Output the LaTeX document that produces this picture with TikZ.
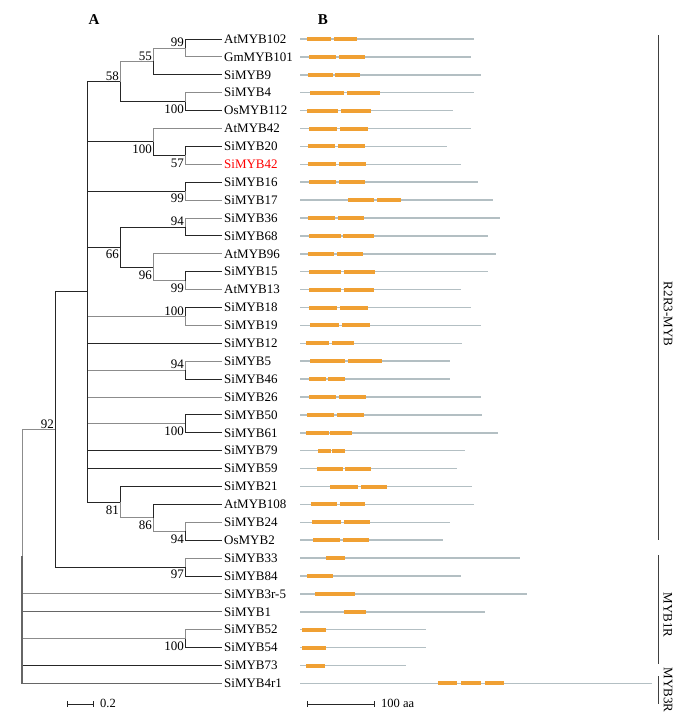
\documentclass[tikz,border=0pt]{standalone}
\usepackage{fontspec}
\setmainfont{Liberation Serif}
\definecolor{domorange}{HTML}{F0A033}
\definecolor{protgray}{HTML}{B3BFC3}
\tikzset{
  br/.style={black!85, line width=0.9pt},
  brg/.style={black!45, line width=0.9pt},
  leaf/.style={anchor=west, inner sep=2pt, font=\fontsize{13}{15}\selectfont},
  bsup/.style={anchor=south east, inner sep=1pt, font=\fontsize{13}{15}\selectfont},
  bsdn/.style={anchor=north east, inner sep=1pt, yshift=-2pt, font=\fontsize{13}{15}\selectfont},
  prot/.style={protgray, line width=1.5pt},
  dom/.style={domorange, line width=4pt},
  grp/.style={black!75, line width=1pt},
  grplabel/.style={rotate=-90, inner sep=0pt, font=\fontsize{13}{15}\selectfont},
}
\begin{document}
\begin{tikzpicture}[x=1pt,y=-1pt]
\useasboundingbox (0,0) rectangle (698,724);
\node[font=\bfseries\fontsize{15}{17}\selectfont] (panA) at (94,20) {A};
\node[font=\bfseries\fontsize{15}{17}\selectfont] (panB) at (323,20) {B};

% taxa
\foreach \i/\t/\c in {1/AtMYB102/black, 2/GmMYB101/black, 3/SiMYB9/black, 4/SiMYB4/black,
    5/OsMYB112/black, 6/AtMYB42/black, 7/SiMYB20/black, 8/SiMYB42/red, 9/SiMYB16/black,
    10/SiMYB17/black, 11/SiMYB36/black, 12/SiMYB68/black, 13/AtMYB96/black, 14/SiMYB15/black,
    15/AtMYB13/black, 16/SiMYB18/black, 17/SiMYB19/black, 18/SiMYB12/black, 19/SiMYB5/black,
    20/SiMYB46/black, 21/SiMYB26/black, 22/SiMYB50/black, 23/SiMYB61/black, 24/SiMYB79/black,
    25/SiMYB59/black, 26/SiMYB21/black, 27/AtMYB108/black, 28/SiMYB24/black, 29/OsMYB2/black,
    30/SiMYB33/black, 31/SiMYB84/black, 32/SiMYB3r-5/black, 33/SiMYB1/black, 34/SiMYB52/black,
    35/SiMYB54/black, 36/SiMYB73/black, 37/SiMYB4r1/black}
  \node[leaf, text=\c] (l\i) at (222, {39+17.9*(\i-1)}) {\t};

% inner nodes
\coordinate (a99) at (185,47.95);
\coordinate (a55) at (153,61.4);
\coordinate (a100) at (185,101.65);
\coordinate (a58) at (120,81.5);
\coordinate (b57) at (185,155.35);
\coordinate (b100) at (153,141.9);
\coordinate (c99) at (185,191.15);
\coordinate (d94) at (185,226.95);
\coordinate (d99) at (185,280.65);
\coordinate (d96) at (153,267.2);
\coordinate (d66) at (120,247.1);
\coordinate (e100) at (185,316.45);
\coordinate (f94) at (185,370.15);
\coordinate (g100) at (185,423.85);
\coordinate (h94) at (185,531.25);
\coordinate (h86) at (153,517.8);
\coordinate (h81) at (120,502.2);
\coordinate (big) at (87,291.85);
\coordinate (i97) at (185,567.05);
\coordinate (n92) at (55,429.45);
\coordinate (j100) at (185,638.65);
\coordinate (root) at (22,556.4);

% branches
\draw[br] (a99) |- (l1.west);
\draw[brg] (a99) |- (l2.west);
\draw[brg] (a55) |- (a99);
\draw[br] (a55) |- (l3.west);
\draw[brg] (a100) |- (l4.west);
\draw[br] (a100) |- (l5.west);
\draw[brg] (a58) |- (a55);
\draw[br] (a58) |- (a100);
\draw[br] (b57) |- (l7.west);
\draw[brg] (b57) |- (l8.west);
\draw[brg] (b100) |- (l6.west);
\draw[br] (b100) |- (b57);
\draw[br] (c99) |- (l9.west);
\draw[brg] (c99) |- (l10.west);
\draw[brg] (d94) |- (l11.west);
\draw[br] (d94) |- (l12.west);
\draw[br] (d99) |- (l14.west);
\draw[brg] (d99) |- (l15.west);
\draw[brg] (d96) |- (l13.west);
\draw[brg] (d96) |- (d99);
\draw[br] (d66) |- (d94);
\draw[br] (d66) |- (d96);
\draw[br] (e100) |- (l16.west);
\draw[brg] (e100) |- (l17.west);
\draw[brg] (f94) |- (l19.west);
\draw[br] (f94) |- (l20.west);
\draw[br] (g100) |- (l22.west);
\draw[br] (g100) |- (l23.west);
\draw[brg] (h94) |- (l28.west);
\draw[br] (h94) |- (l29.west);
\draw[br] (h86) |- (l27.west);
\draw[brg] (h86) |- (h94);
\draw[br] (h81) |- (l26.west);
\draw[brg] (h81) |- (h86);
\foreach \k in {a58, b100, c99, d66, h81}
  \draw[br] (big) |- (\k);
\foreach \k in {e100, f94, g100}
  \draw[brg] (big) |- (\k);
\draw[br] (big) |- (l18.west);
\draw[brg] (big) |- (l21.west);
\draw[br] (big) |- (l24.west);
\draw[br] (big) |- (l25.west);
\draw[brg] (i97) |- (l30.west);
\draw[br] (i97) |- (l31.west);
\draw[brg] (j100) |- (l34.west);
\draw[br] (j100) |- (l35.west);
\draw[br] (n92) |- (big);
\draw[br] (n92) |- (i97);
\draw[brg] (root) |- (n92);
\draw[brg] (root) |- (l32.west);
\draw[black!60, line width=1.3pt] (root) |- (l33.west);
\draw[brg] (root) |- (j100);
\draw[br] (root) |- (l36.west);
\draw[black!60, line width=1.3pt] (root) |- (l37.west);

% bootstrap
\foreach \k/\v in {a99/99, a55/55, a58/58, d94/94, e100/100, f94/94, n92/92}
  \node[bsup] at (\k) {\v};
\foreach \k/\v in {a100/100, b100/100, b57/57, c99/99, d66/66, d96/96, d99/99,
    g100/100, h81/81, h86/86, h94/94, i97/97, j100/100}
  \node[bsdn] at (\k) {\v};

% scale A
\draw[black!85, line width=0.8pt] (67,704) -- (93,704);
\draw[black!85, line width=0.8pt] (67,701) -- (67,707) (93,701) -- (93,707);
\node[anchor=west, inner sep=1pt, font=\fontsize{12.5}{14}\selectfont] (scA) at (99,703) {0.2};

% proteins
\foreach \i/\e/\doms in {1/474/{307/331,334/357}, 2/471/{309/336,339/365},
    3/481/{308/333,335/360}, 4/474/{310/344,347/380}, 5/453/{307/338,341/371},
    6/471/{309/337,340/368}, 7/447/{308/335,338/365}, 8/461/{308/336,339/366},
    9/478/{309/336,339/365}, 10/493/{348/374,377/401}, 11/500/{308/335,338/364},
    12/488/{309/341,343/374}, 13/496/{308/334,337/363}, 14/488/{309/341,344/375},
    15/461/{309/341,344/374}, 16/471/{309/337,340/368}, 17/481/{310/339,342/370},
    18/462/{306/329,332/354}, 19/450/{310/345,348/382}, 20/450/{309/326,328/345},
    21/481/{309/336,339/366}, 22/482/{307/334,337/364}, 23/498/{306/329,330/352},
    24/465/{318/331,332/345}, 25/457/{317/343,345/371}, 26/472/{330/358,361/387},
    27/474/{311/337,340/365}, 28/450/{312/341,344/370}, 29/443/{313/340,343/369},
    30/520/{326/345}, 31/461/{307/333}, 32/527/{315/355}, 33/485/{344/366},
    34/426/{302/326}, 35/426/{302/326}, 36/406/{306/325},
    37/652/{438/457,461/481,485/504}} {
  \pgfmathsetmacro\yy{39+17.9*(\i-1)}
  \draw[prot] (300,\yy) -- (\e,\yy);
  \foreach \a/\b in \doms
    \draw[dom] (\a,\yy) -- (\b,\yy);
}

% scale B
\draw[black!85, line width=0.8pt] (307,704) -- (374,704);
\draw[black!85, line width=0.8pt] (307,701) -- (307,707) (374,701) -- (374,707);
\node[anchor=west, inner sep=1pt, font=\fontsize{12.5}{14}\selectfont] (scB) at (380,703) {100 aa};

% groups
\draw[grp] (658,35) -- (658,540);
\draw[grp] (658,555) -- (658,664);
\draw[grp] (658,676) -- (658,704);
\node[grplabel] (gR2R3) at (668,314) {R2R3-MYB};
\node[grplabel] (gMYB1R) at (668,615) {MYB1R};
\node[grplabel] (gMYB3R) at (668,690) {MYB3R};
\end{tikzpicture}
\end{document}
